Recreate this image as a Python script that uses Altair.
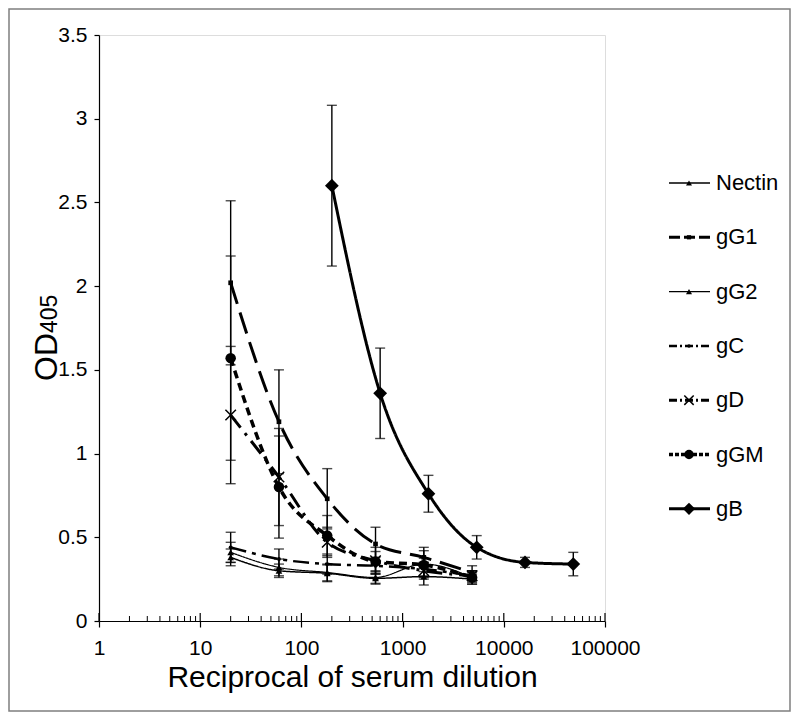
import altair as alt
import pandas as pd

# ---------------- data ----------------
series = ["Nectin", "gG1", "gG2", "gC", "gD", "gGM", "gB"]
dil = [20, 60, 180, 540, 1620, 4860]
dil_gB = [200, 600, 1800, 5400, 16200, 48600]

nectin = [0.38, 0.30, 0.285, 0.255, 0.265, 0.25]
nectin_err = [0.05, 0.04, 0.05, 0.03, 0.05, 0.03]
gG1 = [2.02, 1.19, 0.73, 0.46, 0.38, 0.29]
gG1_err = [0.49, 0.31, 0.18, 0.10, 0.06, 0.04]
gG2 = [0.41, 0.32, 0.29, 0.26, 0.34, 0.26]
gG2_err = [0.06, 0.05, 0.05, 0.04, 0.08, 0.04]
gC = [0.44, 0.37, 0.34, 0.33, 0.31, 0.27]
gC_err = [0.09, 0.06, 0.06, 0.05, 0.04, 0.03]
gD = [1.23, 0.86, 0.47, 0.36, 0.30, 0.27]
gD_err = [0.41, 0.29, 0.09, 0.08, 0.05, 0.03]
gGM = [1.57, 0.80, 0.51, 0.355, 0.335, 0.26]
gGM_err = [0.61, 0.305, 0.12, 0.06, 0.04, 0.03]
gB = [2.60, 1.36, 0.76, 0.44, 0.35, 0.34]
gB_err = [0.48, 0.27, 0.11, 0.07, 0.03, 0.07]

x_major = [1, 10, 100, 1000, 10000, 100000]
x_minor = [k * d for d in [1, 10, 100, 1000, 10000] for k in range(2, 10)]
y_ticks = [0, 0.5, 1, 1.5, 2, 2.5, 3, 3.5]

values = {"Nectin": (dil, nectin, nectin_err), "gG1": (dil, gG1, gG1_err),
          "gG2": (dil, gG2, gG2_err), "gC": (dil, gC, gC_err),
          "gD": (dil, gD, gD_err), "gGM": (dil, gGM, gGM_err),
          "gB": (dil_gB, gB, gB_err)}

rows = []
for s in series:
    xs, ys, es = values[s]
    for xv, yv, ev in zip(xs, ys, es):
        rows.append({"series": s, "x": xv, "y": yv, "lo": yv - ev, "hi": yv + ev})
df = pd.DataFrame(rows)

# ---------------- styles ----------------
FONT = "Liberation Sans"
W, H = 506, 586
style = {
    "Nectin": dict(dash=[1, 0], sw=1.5, shape="triangle-up", size=45, filled=True),
    "gG1": dict(dash=[22, 9], sw=3, shape="square", size=22, filled=True),
    "gG2": dict(dash=[1, 0], sw=1.2, shape="triangle-up", size=45, filled=True),
    "gC": dict(dash=[16, 6, 4, 6], sw=2.5, shape="circle", size=15, filled=True),
    "gD": dict(dash=[16, 7, 3, 7], sw=3, shape="M-1,-1L1,1M-1,1L1,-1", size=110, filled=False),
    "gGM": dict(dash=[8, 5], sw=3.5, shape="circle", size=110, filled=True),
    "gB": dict(dash=[1, 0], sw=3, shape="diamond", size=190, filled=True),
}

xscale = alt.Scale(type="log", domain=[1, 100000], nice=False)
yscale = alt.Scale(domain=[0, 3.5], nice=False)
xaxis = alt.Axis(values=x_major, format="d", tickSize=6, tickColor="black", tickWidth=1.2,
                 domainColor="black", domainWidth=1.2, labelFontSize=21, labelFont=FONT,
                 labelColor="black", labelPadding=10, labelFlush=False, grid=False,
                 title="Reciprocal of serum dilution", titleFont=FONT, titleFontSize=30,
                 titleFontWeight="normal", titleColor="black", titlePadding=4)
yaxis = alt.Axis(values=y_ticks, format="~g", tickSize=5, tickColor="black", tickWidth=1.2,
                 domainColor="black", domainWidth=1.2, labelFontSize=21, labelFont=FONT,
                 labelColor="black", labelPadding=7, labelFlush=False, grid=False, title="")


def X(field="x"):
    return alt.X(f"{field}:Q", scale=xscale, axis=xaxis)


def Y(field="y"):
    return alt.Y(f"{field}:Q", scale=yscale, axis=yaxis)


base = alt.Chart(df)
layers = []

# outer frame
frame = alt.Chart(pd.DataFrame({"a": [0]})).mark_rect(
    fill="white", fillOpacity=0, stroke="#7f7f7f", strokeWidth=1.5
).encode(x=alt.value(-90), x2=alt.value(691), y=alt.value(-26), y2=alt.value(676))
layers.append(frame)

# minor / major inward ticks on x axis
minor_df = pd.DataFrame({"x": x_minor})
major_df = pd.DataFrame({"x": x_major})
layers.append(alt.Chart(minor_df).mark_rule(color="black", strokeWidth=1).encode(
    x=X(), y=alt.value(H), y2=alt.value(H - 5)))
layers.append(alt.Chart(major_df).mark_rule(color="black", strokeWidth=1.2).encode(
    x=X(), y=alt.value(H), y2=alt.value(H - 8)))

# error bars
layers.append(base.mark_rule(color="black", strokeWidth=1.4).encode(
    x=X(), y=Y("lo"), y2=alt.Y2("hi:Q")))
layers.append(base.transform_fold(["lo", "hi"], as_=["k", "v"]).mark_tick(
    orient="horizontal", size=10, thickness=1.4, color="black").encode(x=X(), y=Y("v")))

# lines and markers
for s in series:
    st = style[s]
    sub = base.transform_filter(alt.datum.series == s)
    layers.append(sub.mark_line(color="black", strokeWidth=st["sw"], strokeDash=st["dash"],
                                interpolate="monotone").encode(x=X(), y=Y()))
    layers.append(sub.mark_point(shape=st["shape"], size=st["size"], filled=st["filled"],
                                 color="black", opacity=1, strokeWidth=1.5).encode(x=X(), y=Y()))

# y axis title OD405
one = pd.DataFrame({"a": [0]})
layers.append(alt.Chart(one).mark_text(text="OD", font=FONT, fontSize=32, angle=270,
                                       align="left", baseline="alphabetic", color="black").encode(
    x=alt.value(-42), y=alt.value(346)))
layers.append(alt.Chart(one).mark_text(text="405", font=FONT, fontSize=23, angle=270,
                                       align="left", baseline="alphabetic", color="black").encode(
    x=alt.value(-42), y=alt.value(298)))

# legend
for i, s in enumerate(series):
    st = style[s]
    yy = 148 + 54.3 * i
    ld = pd.DataFrame({"series": [s]})
    layers.append(alt.Chart(ld).mark_rule(color="black", strokeWidth=st["sw"],
                                          strokeDash=[max(2, d // 2) if d > 1 else d for d in st["dash"]]).encode(
        x=alt.value(570), x2=alt.value(611), y=alt.value(yy)))
    layers.append(alt.Chart(ld).mark_point(shape=st["shape"], size=st["size"] * 0.8,
                                           filled=st["filled"], color="black", opacity=1,
                                           strokeWidth=1.5).encode(
        x=alt.value(590), y=alt.value(yy)))
    layers.append(alt.Chart(ld).mark_text(font=FONT, fontSize=22, align="left",
                                          baseline="middle", color="black").encode(
        x=alt.value(617), y=alt.value(yy), text="series:N"))

chart = alt.layer(*layers).properties(
    width=W, height=H,
    padding={"left": 91, "top": 27, "right": 186, "bottom": 91},
    autosize=alt.AutoSizeParams(type="none"),
).configure_view(stroke="#868686", strokeWidth=1.5).configure(background="white")

chart.save("out.html", embed_options={"renderer": "svg", "actions": False})
